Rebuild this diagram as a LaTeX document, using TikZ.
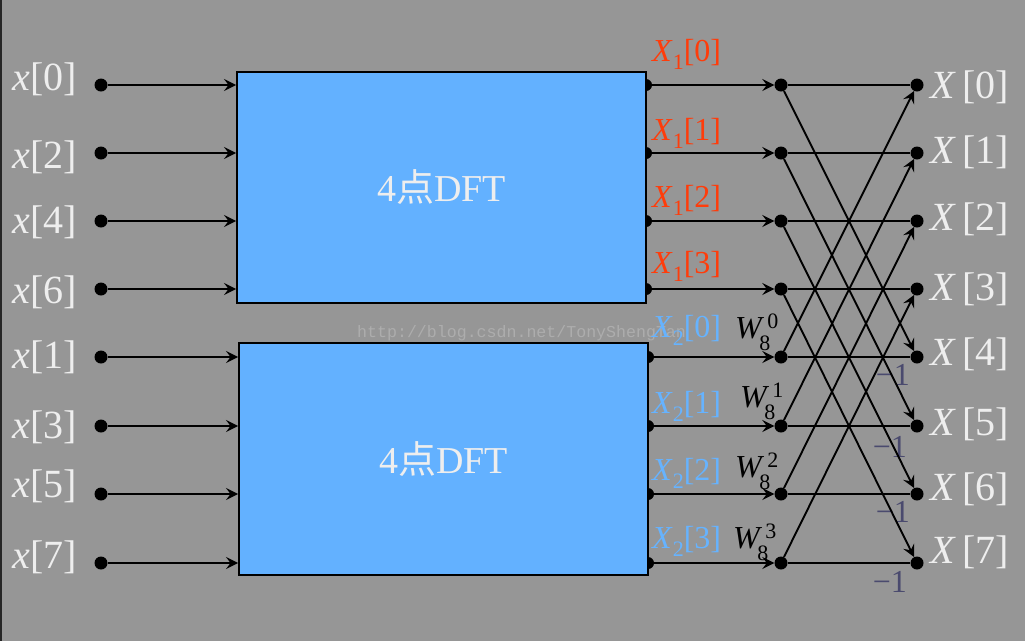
\documentclass[tikz,border=0pt]{standalone}
\usepackage{fontspec}
\setmainfont{Liberation Serif}
\setmonofont{Liberation Mono}
\newfontfamily\cjk{Noto Sans CJK SC}
\usetikzlibrary{arrows.meta}

\definecolor{bgray}{HTML}{969696}
\definecolor{boxblue}{HTML}{63B1FF}
\definecolor{labwhite}{HTML}{EEEEEE}
\definecolor{xred}{HTML}{FF3C0A}
\definecolor{xblue}{HTML}{66B3FF}
\definecolor{mgray}{HTML}{4A4A6E}
\definecolor{wmgray}{HTML}{ADADAD}

\newcommand{\sbx}[2]{\textit{#1}\raisebox{-8pt}{\fontsize{22}{24}\selectfont #2}}
\newcommand{\twf}[1]{\textit{W}\kern-5pt\makebox[0pt][l]{\kern8pt\raisebox{10pt}{\fontsize{22}{24}\selectfont #1}}\raisebox{-12pt}{\fontsize{22}{24}\selectfont 8}}

\begin{document}
\begin{tikzpicture}[x=1pt,y=-1pt,
  dot/.style={circle,fill=black,inner sep=0pt,minimum size=13pt},
  wire/.style={line width=1.9pt},
  arr/.style={line width=1.9pt,-{Stealth[length=12pt,width=12pt,inset=4.5pt]}},
  dftbox/.style={draw=black,line width=1.9pt,fill=boxblue,inner sep=0pt,
    text=labwhite,font=\fontsize{38}{40}\selectfont},
  lab/.style={inner sep=0pt,text=labwhite,font=\fontsize{40}{44}\selectfont},
  xlab/.style={inner sep=0pt,font=\fontsize{32}{36}\selectfont}]
\useasboundingbox (0,0) rectangle (1025,641);
\fill[bgray] (0,0) rectangle (1025,641);
\draw[black!85,line width=1.5pt] (0.75,0) -- (0.75,641);

% outputs of the two 4-point blocks
\foreach \k/\y/\x in {0/85/646,1/153/646,2/221/646,3/289/646,
                      4/357/648,5/426/648,6/494/648,7/563/648}
  \node[dot,minimum size=12pt] (bo\k) at (\x,\y) {};

\node[dftbox,minimum width=409pt,minimum height=231pt] (dft1) at (441.5,187.5) {4{\cjk 点}DFT};
\node[dftbox,minimum width=409pt,minimum height=232pt] (dft2) at (443.5,459) {4{\cjk 点}DFT};

\node[anchor=base west,inner sep=0pt,text=wmgray,font=\ttfamily\fontsize{16.6}{18}\selectfont]
  (wmark) at (357,337) {http://blog.csdn.net/TonyShengTan};

% inputs, butterfly nodes and labels
\foreach \k/\y/\n/\dl/\dr in {0/85/0/5/13,1/153/2/15/10,2/221/4/12/9,3/289/6/14/11,
                              4/357/1/11/8,5/426/3/12/9,6/494/5/3/6,7/563/7/5/0}{
  \node[dot] (in\k) at (101,\y) {};
  \node[dot] (m\k) at (781,\y) {};
  \node[dot] (r\k) at (917,\y) {};
  \node[lab,anchor=base east,xshift=-24pt,yshift=-\dl pt] (xl\k) at (in\k) {\textit{x}[\n]};
  \node[lab,anchor=base west,xshift=13pt,yshift=-\dr pt] (Xl\k) at (r\k) {\textit{X}\,[\k]};
  \draw[arr] (bo\k) -- (m\k);
}
\foreach \k in {0,...,3}
  \draw[arr] (in\k) -- (in\k -| dft1.west);
\foreach \k in {4,...,7}
  \draw[arr] (in\k) -- (in\k -| dft2.west);

\foreach \k/\d in {0/24,1/13,2/14,3/16}
  \node[xlab,text=xred,anchor=base west,xshift=6pt,yshift=\d pt] (xa\k) at (bo\k) {\sbx{X}{1}[\k]};
\foreach \k/\i/\d in {4/0/20,5/1/13,6/2/14,7/3/15}
  \node[xlab,text=xblue,anchor=base west,xshift=4pt,yshift=\d pt] (xb\k) at (bo\k) {\sbx{X}{2}[\i]};

% twiddle factors and -1
\foreach \k/\i/\dx/\d in {4/0/-46/19,5/1/-41/19,6/2/-46/17,7/3/-48/15}
  \node[xlab,anchor=base west,xshift=\dx pt,yshift=\d pt] (w\k) at (m\k) {\twf{\i}};
\foreach \k/\dx/\d in {4/-7/28,5/-10/31,6/-7/28,7/-10/29}
  \node[xlab,text=mgray,anchor=base east,xshift=\dx pt,yshift=-\d pt] (neg\k) at (r\k) {−1};

% butterflies
\foreach \k [evaluate=\k as \j using int(\k+4)] in {0,...,3}{
  \draw[wire] (m\k) -- (r\k);
  \draw[wire] (m\j) -- (r\j);
  \draw[arr] (m\k) -- (r\j);
  \draw[arr] (m\j) -- (r\k);
}
\end{tikzpicture}
\end{document}
